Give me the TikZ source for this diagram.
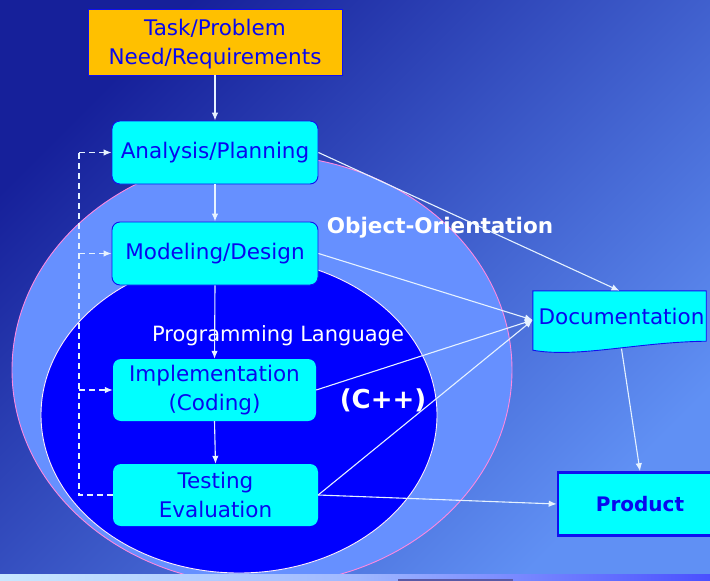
\documentclass[tikz,border=0pt]{standalone}
\usepackage{fontspec}
\setmainfont{DejaVu Sans}
\usetikzlibrary{arrows.meta}
\definecolor{bgdark}{HTML}{16209A}
\definecolor{bglight}{HTML}{6090F4}
\definecolor{outerfill}{HTML}{6690FF}
\definecolor{pinkline}{HTML}{FF88E0}
\definecolor{innerfill}{HTML}{0000FF}
\definecolor{boxcyan}{HTML}{00FFFF}
\definecolor{boxblue}{HTML}{1010F0}
\definecolor{textblue}{HTML}{0808EE}
\definecolor{orangefill}{HTML}{FFC000}
\definecolor{arrowwhite}{HTML}{E6F2FF}
\definecolor{stripleft}{HTML}{C8E8FF}
\definecolor{stripmid}{HTML}{A0B8FF}
\definecolor{stripright}{HTML}{4A50FF}
\begin{document}
\begin{tikzpicture}[x=1pt,y=-1pt,
  boxfont/.style={font=\fontsize{21.5}{29}\selectfont, text=textblue, align=center},
  procbox/.style={boxfont, rectangle, rounded corners=8pt, fill=boxcyan, minimum width=206pt, minimum height=63pt, inner sep=0pt},
  bordered/.style={draw=boxblue, line width=0.9pt},
  arr/.style={draw=arrowwhite, line width=1.1pt, -{Latex[length=8pt,width=6.5pt]}},
  dashline/.style={draw=arrowwhite, line width=1.1pt, dash pattern=on 6pt off 4pt},
  whitelabel/.style={text=white, inner sep=0pt}
]
\useasboundingbox (0,0) rectangle (710,581);
% background
\shade[top color=bgdark, bottom color=bglight, shading angle=45] (0,0) rectangle (710,581);
% ellipses
\draw[fill=outerfill, draw=pinkline, line width=0.9pt] (262,370) ellipse [x radius=250pt, y radius=215pt];
\draw[fill=innerfill, draw=white!85!pinkline, line width=0.9pt] (239,415) ellipse [x radius=198pt, y radius=158pt];
% bottom strip
\shade[left color=stripleft, right color=stripright, middle color=stripmid] (0,574) rectangle (710,581);
\fill[gray!70!blue] (398,578.5) rectangle (513,581);

% labels
\node[whitelabel, font=\bfseries\fontsize{21.5}{26}\selectfont] (oo) at (440,228) {Object-Orientation};
\node[whitelabel, font=\fontsize{21}{26}\selectfont] (pl) at (278,336) {Programming Language};
\node[whitelabel, font=\bfseries\fontsize{26}{30}\selectfont] (cpp) at (383,400) {(C++)};

% nodes
\node[rectangle, fill=orangefill, draw=boxblue, line width=0.9pt, minimum width=254pt, minimum height=66pt, inner sep=0pt] (task) at (215,42) {};
\node[boxfont, inner sep=0pt] (tasktext) at ([yshift=-2.5pt]task.center) {Task/Problem\\Need/Requirements};
\node[procbox, bordered] (ana) at (215,152.5) {Analysis/Planning};
\node[procbox, bordered] (mod) at (215,253.5) {Modeling/Design};
\node[procbox, minimum width=203pt, minimum height=62pt] (imp) at (214.5,390) {Implementation\\(Coding)};
\node[procbox, minimum width=205pt, minimum height=62pt] (tst) at (215.5,495) {Testing\\Evaluation};
\node[rectangle, minimum width=173pt, minimum height=50pt, inner sep=0pt] (doc) at (619.5,316) {};
\draw[fill=boxcyan, draw=boxblue, line width=0.9pt]
  (doc.north west) -- (doc.north east) -- (doc.south east)
  .. controls ++(-70,1) and ++(45,8) .. ([yshift=-9pt]doc.south west) -- cycle;
\node[boxfont, inner sep=0pt] (doctext) at ([xshift=2pt]doc.center) {Documentation};
\node[boxfont, font=\bfseries\fontsize{20}{24}\selectfont, rectangle, fill=boxcyan, draw=boxblue, line width=2.6pt, minimum width=164pt, minimum height=63pt, inner sep=0pt] (prod) at (640,504) {Product};

% connectors
\draw[arr] (task.south) -- (ana.north);
\draw[arr] (ana.south) -- (mod.north);
\draw[arr] (mod.south) -- (imp.north);
\draw[arr] (imp.south) -- (tst.north);
\coordinate (lp) at (79,0);
\draw[dashline] (tst.west) -- (tst.west -| lp) -- (lp |- ana.west);
\draw[dashline, -{Latex[length=8pt,width=6.5pt]}] (lp |- ana.west) -- (ana.west);
\draw[dashline, -{Latex[length=8pt,width=6.5pt]}] (lp |- mod.west) -- (mod.west);
\draw[dashline, -{Latex[length=8pt,width=6.5pt]}] (lp |- imp.west) -- (imp.west);
\draw[arr] (ana.east) -- (doc.north);
\draw[arr] (mod.east) -- ([yshift=-4pt]doc.west);
\draw[arr] (imp.east) -- ([yshift=-4pt]doc.west);
\draw[arr] (tst.east) -- ([yshift=-4pt]doc.west);
\draw[arr] (tst.east) -- (prod.west);
\draw[arr] ([xshift=2pt,yshift=-7.5pt]doc.south) -- (prod.north);
\end{tikzpicture}
\end{document}
